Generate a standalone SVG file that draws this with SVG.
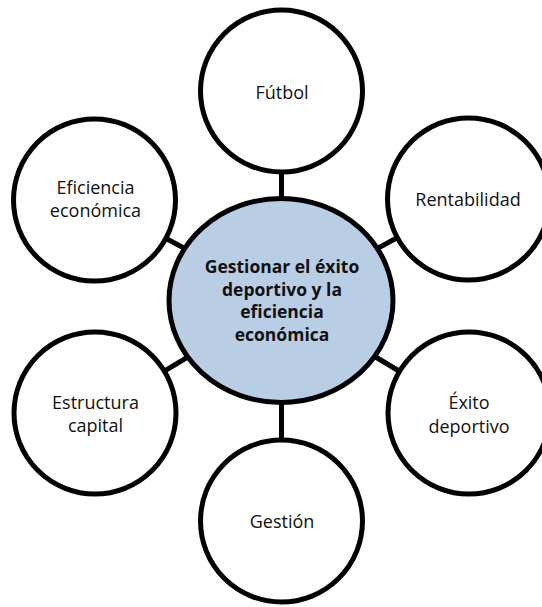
<svg xmlns="http://www.w3.org/2000/svg" width="542" height="607" viewBox="0 0 542 607">
<style>
.c{fill:#fff;stroke:#000;stroke-width:5}
.m{fill:#b9cde5;stroke:#000;stroke-width:5}
.t{font-family:"Open Sans","Liberation Sans",sans-serif;font-size:18px;fill:#111;text-anchor:middle}
.b{font-weight:bold;font-size:17.5px}
.k{stroke:#000;stroke-width:5;fill:none}
</style>
<rect width="542" height="607" fill="#fff"/>
<g id="connectors">
<line class="k" x1="281.5" y1="300.5" x2="281.5" y2="91"/>
<line class="k" x1="281.5" y1="300.5" x2="281.5" y2="521"/>
<line class="k" x1="281.5" y1="300.5" x2="94.5" y2="200"/>
<line class="k" x1="281.5" y1="300.5" x2="468.5" y2="199"/>
<line class="k" x1="281.5" y1="300.5" x2="95" y2="413"/>
<line class="k" x1="281.5" y1="300.5" x2="469" y2="413"/>
</g>
<g id="center">
<ellipse class="m" cx="281" cy="300.5" rx="112" ry="102"/>
<text class="t b" x="282" y="273">Gestionar el éxito</text>
<text class="t b" x="282" y="295.5">deportivo y la</text>
<text class="t b" x="282" y="318">eficiencia</text>
<text class="t b" x="282" y="341">económica</text>
</g>
<g id="futbol">
<circle class="c" cx="281.5" cy="91" r="81"/>
<text class="t" x="282" y="99">Fútbol</text>
</g>
<g id="eficiencia">
<circle class="c" cx="94.5" cy="200" r="81"/>
<text class="t" x="95.5" y="194">Eficiencia</text>
<text class="t" x="95.5" y="216.5">económica</text>
</g>
<g id="rentabilidad">
<circle class="c" cx="468.5" cy="199" r="81"/>
<text class="t" x="468" y="206">Rentabilidad</text>
</g>
<g id="estructura">
<circle class="c" cx="95" cy="413" r="81"/>
<text class="t" x="95.5" y="409">Estructura</text>
<text class="t" x="95.5" y="432">capital</text>
</g>
<g id="exito">
<circle class="c" cx="469" cy="413" r="81"/>
<text class="t" x="469" y="409">Éxito</text>
<text class="t" x="469" y="432.5">deportivo</text>
</g>
<g id="gestion">
<circle class="c" cx="281.5" cy="521" r="81"/>
<text class="t" x="282" y="528">Gestión</text>
</g>
</svg>
